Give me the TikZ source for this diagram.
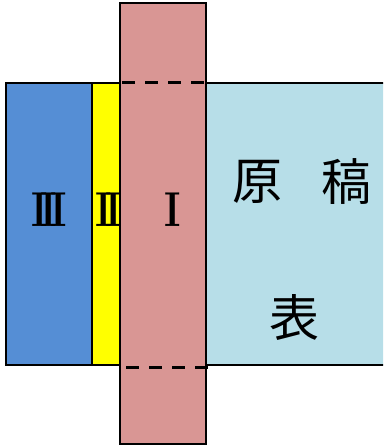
\documentclass[tikz,border=0pt]{standalone}
\usepackage{fontspec}
\usepackage{graphicx}
\newfontfamily\cjk{Noto Sans CJK JP}
\definecolor{cblue}{RGB}{85,142,213}
\definecolor{cyellow}{RGB}{255,255,0}
\definecolor{cpink}{RGB}{217,150,148}
\definecolor{clight}{RGB}{183,222,232}
\newcommand\rnI{\scalebox{0.8}[1]{\bfseries I}}
\newcommand\rnII{\scalebox{0.8}[1]{\bfseries I\kern-8.5pt I}}
\newcommand\rnIII{\scalebox{0.8}[1]{\bfseries I\kern-8.5pt I\kern-8.5pt I}}
\begin{document}
\begin{tikzpicture}[x=1pt,y=-1pt,
  box/.style={draw=black,line width=2.6pt,inner sep=0pt,outer sep=0pt,anchor=north west},
  lab/.style={font=\fontsize{49}{49}\selectfont,inner sep=0pt},
  big/.style={font=\cjk\fontsize{50}{50}\selectfont,inner sep=0pt},
  cut/.style={line width=3pt,dash pattern=on 13pt off 10pt}]
\useasboundingbox (0,0) rectangle (383,446);
\clip (0,0) rectangle (383,446);
\node[box,fill=clight,minimum width=190pt,minimum height=282pt] (orig) at (206,83) {};
\node[box,fill=cblue,minimum width=86pt,minimum height=282pt] (b3) at (6,83) {};
\node[box,fill=cyellow,minimum width=28pt,minimum height=282pt] (b2) at (92,83) {};
\node[box,fill=cpink,minimum width=86pt,minimum height=441pt] (b1) at (120,3) {};
\coordinate (d1a) at (122,83);
\coordinate (d1b) at (206,83);
\coordinate (d2a) at (126,367);
\coordinate (d2b) at (210,367);
\draw[cut] (d1a) -- (d1b);
\draw[cut] (d2a) -- (d2b);
\node[lab] (t3) at (49,210) {\rnIII};
\node[lab] (t2) at (109,210) {\rnII};
\node[lab] (t1) at (173,210) {\rnI};
\node[big] (g1) at (257,182) {原};
\node[big] (g2) at (346,182) {稿};
\node[big] (g3) at (294,317) {表};
\end{tikzpicture}
\end{document}
